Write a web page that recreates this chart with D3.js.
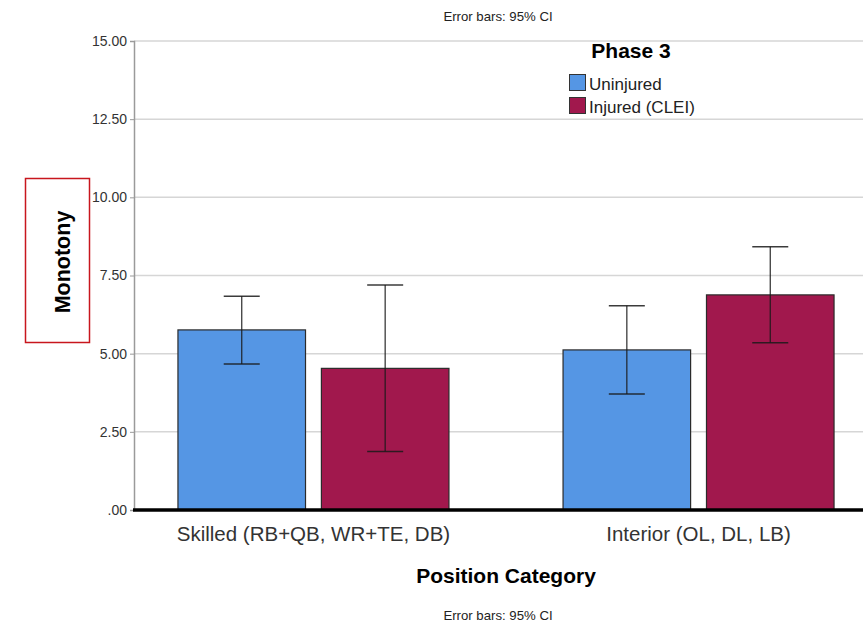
<!DOCTYPE html>
<html>
<head>
<meta charset="utf-8">
<script src="https://cdn.jsdelivr.net/npm/d3@7"></script>
<style>
  body { margin: 0; background: #fff; }
  text { font-family: Arial, "Liberation Sans", sans-serif; }
</style>
</head>
<body>
<div id="chart"></div>
<script>
// chart data
const categories = ["Skilled (RB+QB, WR+TE, DB)", "Interior (OL, DL, LB)"];
const groups = ["Uninjured", "Injured (CLEI)"];
const means = [[5.76, 4.53], [5.12, 6.88]];
const ciLow = [[4.67, 1.87], [3.71, 5.35]];
const ciHigh = [[6.84, 7.20], [6.53, 8.42]];
const yTicks = [0, 2.5, 5, 7.5, 10, 12.5, 15];
const tickLabels = [".00", "2.50", "5.00", "7.50", "10.00", "12.50", "15.00"];
const colors = ["#5596e4", "#a1184d"];

const width = 863, height = 623;
const plot = {left: 134, right: 878, top: 41, bottom: 510};

let svg = d3.select("#chart").append("svg")
    .attr("width", width)
    .attr("height", height);

let y = d3.scaleLinear().domain([0, 15]).range([plot.bottom, plot.top]);

let x = d3.scalePoint().domain(categories)
    .range([plot.left, plot.right])
    .padding(0.466);

let barW = 128, gap = 15;
let sub = d3.scaleBand().domain(groups)
    .range([-(barW + gap / 2), barW + gap / 2])
    .paddingInner(gap / (barW * 2 + gap) * 2);

// gridlines
svg.append("g").selectAll("line").data(yTicks.filter(d => d > 0))
    .enter().append("line")
    .attr("x1", plot.left).attr("x2", width)
    .attr("y1", d => y(d)).attr("y2", d => y(d))
    .style("stroke", "#d6d6d6").style("stroke-width", 1.5);

// y axis
let yAxis = svg.append("g")
    .attr("transform", `translate(${plot.left},0)`)
    .call(d3.axisLeft(y).tickValues(yTicks).tickSize(4).tickPadding(3)
        .tickFormat((d, i) => tickLabels[i]));
yAxis.select(".domain").style("stroke", "#9a9a9a").style("stroke-width", 1.5);
yAxis.selectAll(".tick line").style("stroke", "#9a9a9a");
yAxis.selectAll("text").style("font-size", "14px").style("fill", "#333")
    .style("font-family", "Arial, 'Liberation Sans', sans-serif");

// bars
let rows = [];
categories.forEach((c, i) => groups.forEach((g, j) => {
    rows.push({cat: c, grp: g, j: j, mean: means[i][j], lo: ciLow[i][j], hi: ciHigh[i][j]});
}));

svg.append("g").selectAll("rect").data(rows)
    .enter().append("rect")
    .attr("x", d => x(d.cat) + sub(d.grp))
    .attr("y", d => y(d.mean))
    .attr("width", sub.bandwidth())
    .attr("height", d => y(0) - y(d.mean))
    .attr("fill", d => colors[d.j])
    .style("stroke", "#2b2b2b").style("stroke-width", 1.2);

// error bars
let eb = svg.append("g").selectAll("g").data(rows).enter().append("g")
    .attr("transform", d => `translate(${x(d.cat) + sub(d.grp) + sub.bandwidth() / 2},0)`);
eb.append("line").attr("y1", d => y(d.lo)).attr("y2", d => y(d.hi))
    .style("stroke", "#1a1a1a").style("stroke-width", 1.3).style("opacity", 0.85);
eb.append("line").attr("x1", -18).attr("x2", 18).attr("y1", d => y(d.hi)).attr("y2", d => y(d.hi))
    .style("stroke", "#1a1a1a").style("stroke-width", 1.5).style("opacity", 0.85);
eb.append("line").attr("x1", -18).attr("x2", 18).attr("y1", d => y(d.lo)).attr("y2", d => y(d.lo))
    .style("stroke", "#1a1a1a").style("stroke-width", 1.5).style("opacity", 0.85);

// baseline
svg.append("line")
    .attr("x1", plot.left - 1).attr("x2", width)
    .attr("y1", y(0)).attr("y2", y(0))
    .style("stroke", "#000").style("stroke-width", 3.5);

// x category labels
svg.append("g").selectAll("text").data(categories).enter().append("text")
    .attr("x", d => x(d)).attr("y", 541)
    .style("text-anchor", "middle")
    .style("font-size", "20.5px").style("fill", "#333")
    .text(d => d);

// x axis title
svg.append("text")
    .attr("x", 506).attr("y", 583)
    .style("text-anchor", "middle")
    .style("font-size", "21px").style("font-weight", "bold")
    .text("Position Category");

// y axis title + red box
svg.append("rect")
    .attr("x", 25.5).attr("y", 178.5).attr("width", 64).attr("height", 164)
    .style("fill", "none").style("stroke", "#c8161d").style("stroke-width", 1.5);
svg.append("text")
    .attr("transform", "translate(69.5,262) rotate(-90)")
    .style("text-anchor", "middle")
    .style("font-size", "21.5px").style("font-weight", "bold")
    .text("Monotony");

// error bar notes
svg.append("text").attr("x", 498).attr("y", 21)
    .style("text-anchor", "middle").style("font-size", "13.2px").style("fill", "#222")
    .text("Error bars: 95% CI");
svg.append("text").attr("x", 498).attr("y", 620)
    .style("text-anchor", "middle").style("font-size", "13.2px").style("fill", "#222")
    .text("Error bars: 95% CI");

// legend
let legend = svg.append("g");
legend.append("text").attr("x", 631).attr("y", 58)
    .style("text-anchor", "middle")
    .style("font-size", "21px").style("font-weight", "bold")
    .text("Phase 3");
groups.forEach((g, j) => {
    legend.append("rect")
        .attr("x", 569.5).attr("y", 74.5 + j * 23).attr("width", 16).attr("height", 16)
        .attr("fill", colors[j]).style("stroke", "#333").style("stroke-width", 1);
    legend.append("text")
        .attr("x", 589).attr("y", 89.5 + j * 23)
        .style("font-size", "17px").style("fill", "#222")
        .text(g);
});
</script>
</body>
</html>
